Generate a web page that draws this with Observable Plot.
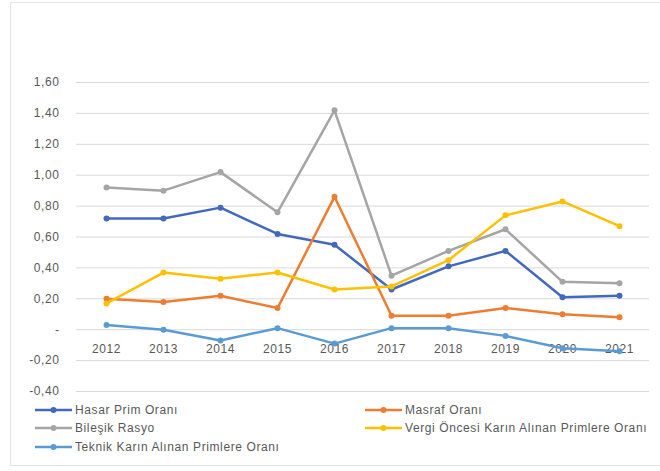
<!DOCTYPE html>
<html>
<head>
<meta charset="utf-8">
<script src="https://cdn.jsdelivr.net/npm/d3@7"></script>
<script src="https://cdn.jsdelivr.net/npm/@observablehq/plot@0.6"></script>
<style>
  html, body { margin: 0; padding: 0; background: #fff; }
  body { width: 660px; height: 471px; position: relative; overflow: hidden; font-family: "Liberation Sans", Arial, sans-serif; }
  #frame { position: absolute; left: 10px; top: 2px; width: 700px; height: 464px; border: 1px solid #e4e4e4; box-sizing: border-box; }
  #chart { position: absolute; left: 0; top: 0; }
  .leg { position: absolute; font-size: 12px; letter-spacing: 0.6px; color: #595959; white-space: nowrap; display: flex; align-items: center; }
  .leg svg { margin-right: 3px; }
  #chart text { letter-spacing: 0.6px; }
</style>
</head>
<body>
<div id="frame"></div>
<div id="chart"></div>
<div id="legend"></div>
<script>
const years = ["2012","2013","2014","2015","2016","2017","2018","2019","2020","2021"];
const seriesNames = [
  "Hasar Prim Oranı",
  "Masraf Oranı",
  "Bileşik Rasyo",
  "Vergi Öncesi Karın Alınan Primlere Oranı",
  "Teknik Karın Alınan Primlere Oranı"
];
const hasarPrim   = [0.72, 0.72, 0.79, 0.62, 0.55, 0.26, 0.41, 0.51, 0.21, 0.22];
const masraf      = [0.20, 0.18, 0.22, 0.14, 0.86, 0.09, 0.09, 0.14, 0.10, 0.08];
const bilesik     = [0.92, 0.90, 1.02, 0.76, 1.42, 0.35, 0.51, 0.65, 0.31, 0.30];
const vergiOncesi = [0.17, 0.37, 0.33, 0.37, 0.26, 0.28, 0.45, 0.74, 0.83, 0.67];
const teknikKar   = [0.03, 0.00, -0.07, 0.01, -0.09, 0.01, 0.01, -0.04, -0.12, -0.14];
const yTicks = [-0.4, -0.2, 0, 0.2, 0.4, 0.6, 0.8, 1.0, 1.2, 1.4, 1.6];
const colors = ["#4169BE", "#ED7D31", "#A5A5A5", "#FFC000", "#5B9BD5"];

const allSeries = [hasarPrim, masraf, bilesik, vergiOncesi, teknikKar];
const data = [];
allSeries.forEach((vals, si) => {
  vals.forEach((v, i) => data.push({series: seriesNames[si], year: years[i], value: v}));
});

const fmt = v => Math.abs(v) < 1e-9 ? "-" : v.toFixed(2).replace(".", ",");

const chart = Plot.plot({
  width: 660,
  height: 400,
  marginLeft: 76,
  marginRight: 11,
  marginTop: 82,
  marginBottom: 9,
  style: {fontFamily: "Liberation Sans, Arial, sans-serif", fontSize: "12px", color: "#595959", background: "transparent"},
  x: {type: "point", domain: years, padding: 0.5, axis: null},
  y: {domain: [-0.4, 1.6], axis: null},
  color: {domain: seriesNames, range: colors},
  marks: [
    Plot.ruleY(yTicks, {stroke: "#D9D9D9", strokeWidth: 1}),
    Plot.axisY(yTicks, {tickSize: 0, tickPadding: 17, tickFormat: fmt, label: null, fill: "#595959", fontSize: 12}),
    Plot.text(years, {x: d => d, y: 0, dy: 19, text: d => d, fill: "#595959", fontSize: 12}),
    Plot.line(data, {x: "year", y: "value", z: "series", stroke: "series", strokeWidth: 2.5}),
    Plot.dot(data, {x: "year", y: "value", fill: "series", r: 3})
  ]
});
document.getElementById("chart").appendChild(chart);

const legendPos = [
  [35, 403], [365, 403], [35, 421], [365, 421], [35, 440]
];
const leg = document.getElementById("legend");
seriesNames.forEach((name, i) => {
  const d = document.createElement("div");
  d.className = "leg";
  d.style.left = legendPos[i][0] + "px";
  d.style.top = legendPos[i][1] + "px";
  d.innerHTML = `<svg width="37" height="14"><line x1="0" y1="7" x2="37" y2="7" stroke="${colors[i]}" stroke-width="2.5"/><circle cx="18.5" cy="7" r="3" fill="${colors[i]}"/></svg><span>${name}</span>`;
  leg.appendChild(d);
});
</script>
</body>
</html>
